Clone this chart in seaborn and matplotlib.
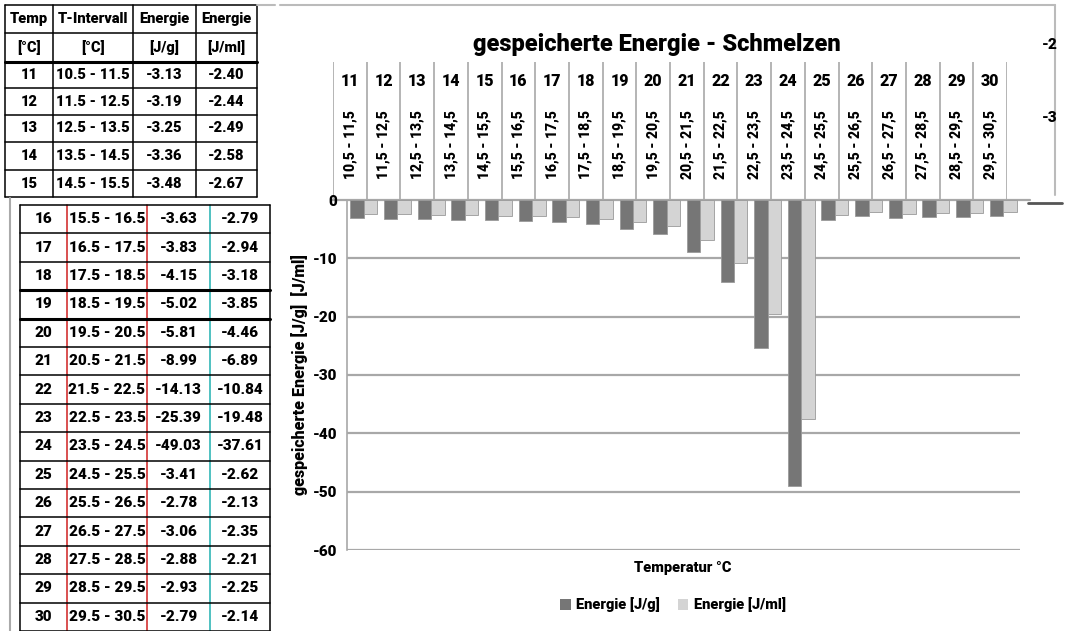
import matplotlib
matplotlib.use("Agg")
import matplotlib.pyplot as plt
from matplotlib.patches import Patch
import seaborn as sns
import pandas as pd

# ---- data ---------------------------------------------------------------
temps = [11, 12, 13, 14, 15, 16, 17, 18, 19, 20,
         21, 22, 23, 24, 25, 26, 27, 28, 29, 30]
intervals = ["10.5 - 11.5", "11.5 - 12.5", "12.5 - 13.5", "13.5 - 14.5",
             "14.5 - 15.5", "15.5 - 16.5", "16.5 - 17.5", "17.5 - 18.5",
             "18.5 - 19.5", "19.5 - 20.5", "20.5 - 21.5", "21.5 - 22.5",
             "22.5 - 23.5", "23.5 - 24.5", "24.5 - 25.5", "25.5 - 26.5",
             "26.5 - 27.5", "27.5 - 28.5", "28.5 - 29.5", "29.5 - 30.5"]
energy_g = [-3.13, -3.19, -3.25, -3.36, -3.48, -3.63, -3.83, -4.15, -5.02, -5.81,
            -8.99, -14.13, -25.39, -49.03, -3.41, -2.78, -3.06, -2.88, -2.93, -2.79]
energy_ml = [-2.40, -2.44, -2.49, -2.58, -2.67, -2.79, -2.94, -3.18, -3.85, -4.46,
             -6.89, -10.84, -19.48, -37.61, -2.62, -2.13, -2.35, -2.21, -2.25, -2.14]
series_names = ["Energie [J/g]", "Energie [J/ml]"]
y_ticks = [0, -10, -20, -30, -40, -50, -60]

DARK = "#767676"
LIGHT = "#d4d4d4"
GRID = "#a8a8a8"
WEIGHT = "heavy"

sns.set_style("white")
plt.rcParams["font.family"] = ["Roboto", "DejaVu Sans"]
plt.rcParams["font.stretch"] = "condensed"
plt.rcParams["font.weight"] = WEIGHT
for key in ["text.color", "axes.labelcolor", "xtick.color", "ytick.color"]:
    plt.rcParams[key] = "black"

W, H = 1065, 631
fig = plt.figure(figsize=(W / 100, H / 100), dpi=100)


def box(x0, y0, x1, y1):
    """Figure-fraction rectangle from pixel coordinates (origin top-left)."""
    return [x0 / W, 1 - y1 / H, (x1 - x0) / W, (y1 - y0) / H]


# overlay in pixel coordinates for the table and frame lines
ov = fig.add_axes([0, 0, 1, 1], zorder=0)
ov.set_xlim(0, W)
ov.set_ylim(H, 0)
ov.axis("off")

# ---- bar chart ------------------------------------------------------------
df = pd.DataFrame({
    "Temp": [str(t) for t in temps] * 2,
    "Energie": energy_g + energy_ml,
    "Serie": [series_names[0]] * len(temps) + [series_names[1]] * len(temps),
})

ax = fig.add_axes(box(347, 200, 1020, 550), zorder=2)
ax.patch.set_alpha(0)
sns.barplot(data=df, x="Temp", y="Energie", hue="Serie",
            palette=[DARK, LIGHT], width=0.8, ax=ax, legend=False,
            edgecolor="#9a9a9a", linewidth=0.6)
ax.set_ylim(-60, 0)
ax.set_xlim(-0.5, len(temps) - 0.5)
ax.set_yticks(y_ticks)
ax.set_yticklabels([str(v) for v in y_ticks], fontsize=11, fontweight=WEIGHT)
ax.set_xticks([])
ax.set_xlabel("")
ax.set_ylabel("")
for v in y_ticks[1:-1]:
    ax.axhline(v, color=GRID, lw=1.6, zorder=0)
for s in ["right", "bottom", "top"]:
    ax.spines[s].set_visible(False)
ax.axhline(-60, color=GRID, lw=1.6, zorder=0)
ax.spines["left"].set_color(GRID)
ax.spines["left"].set_linewidth(1.2)
ax.tick_params(axis="y", length=5, color=GRID, pad=2)

# header strip with temperature and interval labels
hd = fig.add_axes(box(333, 62, 1007, 200), zorder=1)
hd.set_xlim(-0.5, len(temps) - 0.5)
hd.set_ylim(0, 1)
hd.axis("off")
for k in range(len(temps) + 1):
    hd.axvline(k - 0.5, ymin=0, ymax=1, color=GRID, lw=1.2)
for i, (t, iv) in enumerate(zip(temps, intervals)):
    hd.text(i, 0.86, str(t), ha="center", va="center", fontsize=11.5,
            fontweight=WEIGHT)
    hd.text(i, 0.40, iv.replace(".", ","), ha="center", va="center",
            rotation=90, fontsize=10, fontweight=WEIGHT)
ov.plot([332, 1030], [200, 200], color=GRID, lw=1.6)
ov.plot([1028, 1062], [203, 203], color="#555555", lw=2)

# frame of the chart area
ov.plot([280, 1055], [5, 5], color="#bbbbbb", lw=1.5)
ov.plot([1055, 1055], [5, 195], color="#bbbbbb", lw=1.5)
fig.text(1042 / W, 1 - 45 / H, "-2", fontsize=11, va="center")
fig.text(1042 / W, 1 - 118 / H, "-3", fontsize=11, va="center")

fig.text(657 / W, 1 - 45 / H, "gespeicherte Energie - Schmelzen",
         ha="center", va="center", fontsize=17, fontweight=WEIGHT)
fig.text(300 / W, 1 - 375 / H, "gespeicherte Energie [J/g]  [J/ml]",
         ha="center", va="center", rotation=90, fontsize=11.5,
         fontweight=WEIGHT)
fig.text(683 / W, 1 - 568 / H, "Temperatur °C", ha="center", va="center",
         fontsize=10.5, fontweight=WEIGHT)
handles = [Patch(facecolor=DARK, edgecolor="none"),
           Patch(facecolor=LIGHT, edgecolor="none")]
fig.legend(handles, series_names, loc="center", ncol=2, frameon=False,
           bbox_to_anchor=(673 / W, 1 - 605 / H), fontsize=10.5,
           prop={"weight": WEIGHT, "size": 10.5},
           handlelength=0.7, handleheight=0.7, handletextpad=0.4,
           columnspacing=1.2)

# ---- table ------------------------------------------------------------------
head1 = ["Temp", "T-Intervall", "Energie", "Energie"]
head2 = ["[°C]", "[°C]", "[J/g]", "[J/ml]"]


def draw_rows(cols, rows_y, rows, col_colors=None, thick=(), size=10):
    for j, x in enumerate(cols):
        c = col_colors[j] if col_colors else "black"
        ov.plot([x, x], [rows_y[0], rows_y[-1]], color=c, lw=1.1)
    for i, y in enumerate(rows_y):
        ov.plot([cols[0], cols[-1]], [y, y], color="black",
                lw=2.2 if i in thick else 1.1)
    for i, row in enumerate(rows):
        yc = (rows_y[i] + rows_y[i + 1]) / 2
        for j, txt in enumerate(row):
            xc = (cols[j] + cols[j + 1]) / 2
            ov.text(xc, yc, txt, ha="center", va="center", fontsize=size,
                    fontweight=WEIGHT)


top_n = 5
top_cols = [5, 53, 133, 196, 257]
top_rows_y = [5, 33, 62, 88, 115, 142, 170, 197]
top_rows = [head1, head2] + [
    [str(temps[i]), intervals[i], f"{energy_g[i]:.2f}", f"{energy_ml[i]:.2f}"]
    for i in range(top_n)]
draw_rows(top_cols, top_rows_y, top_rows, thick=(2,), size=10.5)
ov.plot([257, 275], [5, 5], color="#bbbbbb", lw=1.5)

low_cols = [20, 67, 147, 210, 270]
low_rows_y = [205 + 28.4 * k for k in range(len(temps) - top_n + 1)]
low_rows = [[str(temps[i]), intervals[i], f"{energy_g[i]:.2f}",
             f"{energy_ml[i]:.2f}"] for i in range(top_n, len(temps))]
draw_rows(low_cols, low_rows_y, low_rows,
          col_colors=["black", "#d02020", "#d02020", "#20b0b0", "black"],
          thick=(3, 4), size=11)
ov.plot([10, 10], [198, 631], color="#aaaaaa", lw=1.5)

fig.savefig("out.png", dpi=100)
